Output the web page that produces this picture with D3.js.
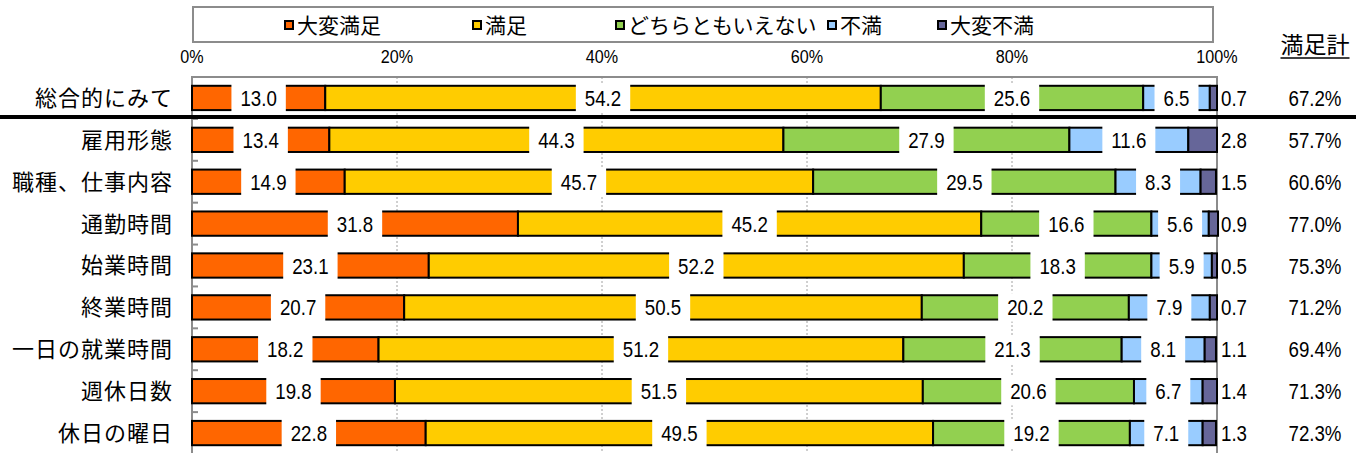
<!DOCTYPE html>
<html>
<head>
<meta charset="utf-8">
<script src="https://cdn.jsdelivr.net/npm/d3@7"></script>
<style>
  body { margin: 0; background: #fff; }
  svg { display: block; }
</style>
</head>
<body>
<svg id="drawing_region"></svg>
<script>
// categories and series
const categories = ['総合的にみて', '雇用形態', '職種、仕事内容', '通勤時間', '始業時間', '終業時間', '一日の就業時間', '週休日数', '休日の曜日'];
const seriesNames = ['大変満足', '満足', 'どちらともいえない', '不満', '大変不満'];
const verySatisfied = [13.0, 13.4, 14.9, 31.8, 23.1, 20.7, 18.2, 19.8, 22.8];
const satisfied     = [54.2, 44.3, 45.7, 45.2, 52.2, 50.5, 51.2, 51.5, 49.5];
const neutral       = [25.6, 27.9, 29.5, 16.6, 18.3, 20.2, 21.3, 20.6, 19.2];
const dissatisfied  = [6.5, 11.6, 8.3, 5.6, 5.9, 7.9, 8.1, 6.7, 7.1];
const veryDissat    = [0.7, 2.8, 1.5, 0.9, 0.5, 0.7, 1.1, 1.4, 1.3];
const totalLabels   = ['67.2%', '57.7%', '60.6%', '77.0%', '75.3%', '71.2%', '69.4%', '71.3%', '72.3%'];
const xTicks = [0, 20, 40, 60, 80, 100];

const colors = ['#FF6600', '#FFCC00', '#92D050', '#99CCFF', '#666699'];
const legendX = [284, 472, 615, 827, 937];

const W = 1356, H = 453;
const numFont = '"Liberation Sans", Arial, sans-serif';
const jpFont = '"Noto Sans CJK JP", "Noto Sans", sans-serif';
const narrow = 'scale(0.85,1)';

const svg = d3.select('#drawing_region').attr('width', W).attr('height', H);

const table = categories.map((c, i) => {
  const vals = [verySatisfied[i], satisfied[i], neutral[i], dissatisfied[i], veryDissat[i]];
  let acc = 0;
  const segs = vals.map((v, k) => { const s = {k, v, x0: acc, x1: acc + v}; acc += v; return s; });
  return {cat: c, segs, total: totalLabels[i]};
});

const x = d3.scaleLinear().domain([0, 100]).range([192, 1217]);
const y = d3.scaleBand().domain(categories).range([77, 454]).paddingInner(0.42).paddingOuter(0.21);
const gap = (y.step() - y.bandwidth()) / 2;

// legend
svg.append('rect')
  .attr('x', 193).attr('y', 7).attr('width', 1020).attr('height', 35)
  .attr('fill', '#fff').attr('stroke', '#8c8c8c').attr('stroke-width', 2);
const leg = svg.selectAll('.leg').data(seriesNames).join('g')
  .attr('transform', (d, i) => `translate(${legendX[i]}, 25)`);
leg.append('rect').attr('x', 1).attr('y', -4).attr('width', 8).attr('height', 8)
  .attr('fill', (d, i) => colors[i]).attr('stroke', '#000').attr('stroke-width', 2);
leg.append('text').attr('x', 13).attr('dy', '0.36em')
  .attr('font-family', jpFont).attr('font-size', 21).attr('fill', '#000')
  .text(d => d);

// grid
svg.selectAll('.grid').data(xTicks.filter(t => t > 0 && t < 100)).join('line')
  .attr('x1', d => x(d)).attr('x2', d => x(d)).attr('y1', 77).attr('y2', H)
  .attr('stroke', '#a0a0a0').attr('stroke-width', 1).attr('stroke-dasharray', '2,2');
svg.append('line').attr('x1', x(0)).attr('x2', x(100)).attr('y1', 77).attr('y2', 77)
  .attr('stroke', '#8c8c8c').attr('stroke-width', 2);
svg.append('line').attr('x1', x(100)).attr('x2', x(100)).attr('y1', 76).attr('y2', H)
  .attr('stroke', '#8c8c8c').attr('stroke-width', 2);
svg.append('line').attr('x1', x(0)).attr('x2', x(0)).attr('y1', 76).attr('y2', H)
  .attr('stroke', '#8c8c8c').attr('stroke-width', 2);
svg.selectAll('.ytick').data(categories.slice(1)).join('line')
  .attr('x1', x(0)).attr('x2', x(0) + 6)
  .attr('y1', d => y(d) - gap).attr('y2', d => y(d) - gap)
  .attr('stroke', '#8c8c8c').attr('stroke-width', 2);

// x tick labels
svg.selectAll('.xlab').data(xTicks).join('text')
  .attr('transform', d => `translate(${x(d)}, 63) ${narrow}`).attr('text-anchor', 'middle')
  .attr('font-family', numFont).attr('font-size', 19).attr('fill', '#000')
  .text(d => d + '%');

// bars
const rows = svg.selectAll('.row').data(table).join('g')
  .attr('transform', d => `translate(0, ${y(d.cat)})`);
rows.selectAll('rect.seg').data(d => d.segs).join('rect')
  .attr('class', 'seg')
  .attr('x', d => x(d.x0)).attr('width', d => x(d.x1) - x(d.x0))
  .attr('y', 0).attr('height', y.bandwidth())
  .attr('fill', d => colors[d.k]).attr('stroke', '#000').attr('stroke-width', 2);

// labels with white boxes
const inner = rows.selectAll('g.lab').data(d => d.segs.filter(s => s.k < 4)).join('g')
  .attr('class', 'lab')
  .attr('transform', d => `translate(${x((d.x0 + d.x1) / 2)}, ${y.bandwidth() / 2})`);
inner.append('rect').attr('fill', '#fff');
inner.append('text').attr('text-anchor', 'middle').attr('transform', `translate(0, 8) ${narrow}`)
  .attr('font-family', numFont).attr('font-size', 22).attr('fill', '#000')
  .text(d => d.v.toFixed(1));
inner.each(function() {
  const g = d3.select(this);
  const w = g.select('text').node().getBBox().width * 0.85;
  g.select('rect').attr('x', -w / 2 - 9).attr('width', w + 18)
    .attr('y', -y.bandwidth() / 2 - 2).attr('height', y.bandwidth() + 4);
});
rows.selectAll('text.end').data(d => d.segs.filter(s => s.k === 4)).join('text')
  .attr('class', 'end')
  .attr('transform', `translate(${x(100) + 4}, ${y.bandwidth() / 2 + 8}) ${narrow}`)
  .attr('font-family', numFont).attr('font-size', 22).attr('fill', '#000')
  .text(d => d.v.toFixed(1));

// category labels
svg.selectAll('.cat').data(categories).join('text')
  .attr('x', 173).attr('y', d => y(d) + y.bandwidth() / 2).attr('dy', '0.36em')
  .attr('text-anchor', 'end').attr('font-family', jpFont).attr('font-size', 22).attr('fill', '#000')
  .attr('letter-spacing', 1)
  .text(d => d);

// totals
svg.selectAll('.tot').data(table).join('text')
  .attr('transform', d => `translate(1315, ${y(d.cat) + y.bandwidth() / 2 + 8}) ${narrow}`)
  .attr('text-anchor', 'middle').attr('font-family', numFont).attr('font-size', 22).attr('fill', '#000')
  .text(d => d.total);
const hdr = svg.append('text').attr('x', 1315).attr('y', 45).attr('dy', '0.36em')
  .attr('text-anchor', 'middle').attr('font-family', jpFont).attr('font-size', 23).attr('fill', '#000')
  .text('満足計');
const hb = hdr.node().getBBox();
svg.append('line').attr('x1', hb.x).attr('x2', hb.x + hb.width)
  .attr('y1', 58).attr('y2', 58).attr('stroke', '#000').attr('stroke-width', 1.5);

// separator under overall row
svg.append('line').attr('x1', 0).attr('x2', W)
  .attr('y1', y(categories[1]) - gap - 2).attr('y2', y(categories[1]) - gap - 2)
  .attr('stroke', '#000').attr('stroke-width', 4);
</script>
</body>
</html>
